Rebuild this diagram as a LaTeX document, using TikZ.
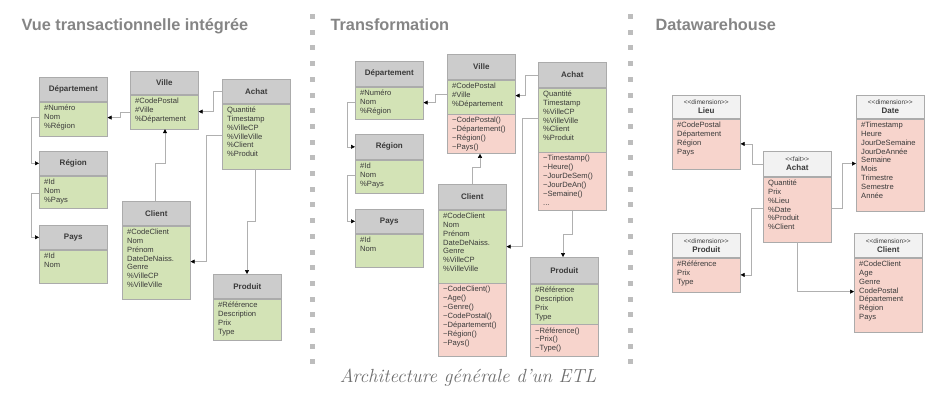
\documentclass[tikz,border=0pt]{standalone}
\usepackage{fontspec}
\newfontfamily\boxfont{Liberation Sans}
\usetikzlibrary{calc,arrows.meta}

\definecolor{headgray}{HTML}{CCCCCC}
\definecolor{dimgray}{HTML}{F2F2F2}
\definecolor{attrgreen}{HTML}{D3E3B6}
\definecolor{methpink}{HTML}{F7D4CC}
\definecolor{boxline}{HTML}{ABABAB}
\definecolor{txtdark}{HTML}{3A3A3A}
\definecolor{conngray}{HTML}{B0B0B0}
\definecolor{titlegray}{HTML}{858585}
\definecolor{sepgray}{HTML}{BDBDBD}
\definecolor{capgray}{HTML}{6E6E6E}

\tikzset{
  cls/.style={draw=boxline, line width=0.6pt, minimum width=68, inner sep=0, anchor=north west},
  head/.style={cls, fill=headgray, font=\boxfont\fontsize{8}{9}\selectfont\bfseries, text=txtdark},
  dimhead/.style={head, fill=dimgray, align=center},
  attr/.style={cls, fill=attrgreen},
  meth/.style={cls, fill=methpink},
  lines/.style={anchor=north west, inner sep=0, align=left, font=\boxfont\fontsize{7.6}{8.9}\selectfont, text=txtdark},
  conn/.style={draw=conngray, line width=0.5pt, -{Triangle[black,length=4pt,width=4pt]}},
  title/.style={anchor=base west, font=\boxfont\fontsize{16.3}{18}\selectfont\bfseries, text=titlegray}
}

% header of a class: name, x, y, height, title
\newcommand{\clshead}[5]{\node[head, minimum height=#4] (#1) at (#2,#3) {#5};}
% compartment under a box: name, style, height, box above, lines
\newcommand{\clspart}[5]{%
  \node[#2, minimum height=#3] (#1) at (#4.south west) {};
  \node[lines] (#1-t) at ($(#1.north west)+(5,3)$) {#5};}
\newcommand{\op}{\textasciitilde}
\newcommand{\dimtag}[2]{{\fontsize{6.5}{7.5}\selectfont\mdseries <{}<#1>{}>}\\#2}

\begin{document}
\begin{tikzpicture}[x=1pt,y=-1pt]
\useasboundingbox (0,0) rectangle (944,404);

% titles
\node[title] (t-vue) at (18,31) {Vue transactionnelle intégrée};
\node[title] (t-trans) at (327,31) {Transformation};
\node[title] (t-dw) at (652,31) {Datawarehouse};

% separators
\foreach \i in {0,...,22} {
  \fill[sepgray] (310,14+\i*15.7) rectangle ++(5,5);
  \fill[sepgray] (628,14+\i*15.7) rectangle ++(5,5);
}

% vue transactionnelle
\clshead{ldep}{39}{77}{24}{Département}
\clspart{ldep-a}{attr}{34}{ldep}{\#Numéro\\Nom\\\%Région}
\clshead{lville}{130}{71}{23}{Ville}
\clspart{lville-a}{attr}{34}{lville}{\#CodePostal\\\#Ville\\\%Département}
\clshead{lachat}{222}{79}{24}{Achat}
\clspart{lachat-a}{attr}{65}{lachat}{Quantité\\Timestamp\\\%VilleCP\\\%VilleVille\\\%Client\\\%Produit}
\clshead{lreg}{39}{151}{24}{Région}
\clspart{lreg-a}{attr}{32}{lreg}{\#Id\\Nom\\\%Pays}
\clshead{lpays}{39}{225}{24}{Pays}
\clspart{lpays-a}{attr}{33}{lpays}{\#Id\\Nom}
\clshead{lclient}{122}{201}{24}{Client}
\clspart{lclient-a}{attr}{73}{lclient}{\#CodeClient\\Nom\\Prénom\\DateDeNaiss.\\Genre\\\%VilleCP\\\%VilleVille}
\clshead{lprod}{213}{274}{24}{Produit}
\clspart{lprod-a}{attr}{41}{lprod}{\#Référence\\Description\\Prix\\Type}

\draw[conn] ($(lville-a.north west)+(0,18)$) -- ++(-10,0) |- ($(ldep-a.north east)+(0,16)$);
\draw[conn] (lachat.west) -- ++(-9,0) |- ($(lville-a.north east)+(0,17)$);
\draw[conn] ($(ldep-a.north west)+(0,16)$) -- ++(-8,0) |- (lreg.west);
\draw[conn] ($(lreg-a.north west)+(0,18)$) -- ++(-8,0) |- (lpays.west);
\draw[conn] ($(lclient.north west)+(33,0)$) -- ++(0,-38) -| ($(lville-a.south west)+(35,0)$);
\draw[conn] ($(lachat-a.north west)+(0,32)$) -- ++(-16,0) |- ($(lclient-a.north east)+(0,36)$);
\draw[conn] ($(lachat-a.south west)+(33,0)$) -- ++(0,52) -| ($(lprod.north west)+(34,0)$);

% transformation
\clshead{mdep}{355}{61}{25}{Département}
\clspart{mdep-a}{attr}{32}{mdep}{\#Numéro\\Nom\\\%Région}
\clshead{mville}{447}{54}{25}{Ville}
\clspart{mville-a}{attr}{34}{mville}{\#CodePostal\\\#Ville\\\%Département}
\clspart{mville-m}{meth}{39}{mville-a}{\op CodePostal()\\\op Département()\\\op Région()\\\op Pays()}
\clshead{machat}{538}{62}{25}{Achat}
\clspart{machat-a}{attr}{64}{machat}{Quantité\\Timestamp\\\%VilleCP\\\%VilleVille\\\%Client\\\%Produit}
\clspart{machat-m}{meth}{58}{machat-a}{\op Timestamp()\\\op Heure()\\\op JourDeSem()\\\op JourDeAn()\\\op Semaine()\\...}
\clshead{mreg}{355}{134}{25}{Région}
\clspart{mreg-a}{attr}{33}{mreg}{\#Id\\Nom\\\%Pays}
\clshead{mpays}{355}{209}{24}{Pays}
\clspart{mpays-a}{attr}{33}{mpays}{\#Id\\Nom}
\clshead{mclient}{438}{184}{25}{Client}
\clspart{mclient-a}{attr}{73}{mclient}{\#CodeClient\\Nom\\Prénom\\DateDeNaiss.\\Genre\\\%VilleCP\\\%VilleVille}
\clspart{mclient-m}{meth}{73}{mclient-a}{\op CodeClient()\\\op Age()\\\op Genre()\\\op CodePostal()\\\op Département()\\\op Région()\\\op Pays()}
\clshead{mprod}{530}{257}{26}{Produit}
\clspart{mprod-a}{attr}{40}{mprod}{\#Référence\\Description\\Prix\\Type}
\clspart{mprod-m}{meth}{32}{mprod-a}{\op Référence()\\\op Prix()\\\op Type()}

\draw[conn] ($(mville-a.north west)+(0,15)$) -- ++(-12,0) |- ($(mdep-a.north east)+(0,16)$);
\draw[conn] (machat.west) -- ++(-13,0) |- ($(mville-a.north east)+(0,16)$);
\draw[conn] ($(mdep-a.north west)+(0,16)$) -- ++(-8,0) |- (mreg.west);
\draw[conn] ($(mreg-a.north west)+(0,16)$) -- ++(-8,0) |- (mpays.west);
\draw[conn] ($(mclient.north west)+(34,0)$) -- ++(0,-17) -| ($(mville-m.south west)+(33,0)$);
\draw[conn] ($(machat-a.north west)+(0,31)$) -- ++(-16,0) |- ($(mclient-a.north east)+(0,37)$);
\draw[conn] ($(machat-m.south west)+(34,0)$) -- ++(0,23) -| ($(mprod.north west)+(33,0)$);

% datawarehouse
\node[dimhead, minimum height=23] (rlieu) at (672,95) {\dimtag{dimension}{Lieu}};
\clspart{rlieu-a}{meth}{50}{rlieu}{\#CodePostal\\Département\\Région\\Pays}
\node[dimhead, minimum height=25] (rachat) at (763,151) {\dimtag{fait}{Achat}};
\clspart{rachat-a}{meth}{65}{rachat}{Quantité\\Prix\\\%Lieu\\\%Date\\\%Produit\\\%Client}
\node[dimhead, minimum height=23] (rdate) at (856,95) {\dimtag{dimension}{Date}};
\clspart{rdate-a}{meth}{92}{rdate}{\#Timestamp\\Heure\\JourDeSemaine\\JourDeAnnée\\Semaine\\Mois\\Trimestre\\Semestre\\Année}
\node[dimhead, minimum height=24] (rprod) at (672,233) {\dimtag{dimension}{Produit}};
\clspart{rprod-a}{meth}{34}{rprod}{\#Référence\\Prix\\Type}
\node[dimhead, minimum height=24] (rclient) at (854,233) {\dimtag{dimension}{Client}};
\clspart{rclient-a}{meth}{74}{rclient}{\#CodeClient\\Age\\Genre\\CodePostal\\Département\\Région\\Pays}

\draw[conn] (rachat.west) -- ++(-11,0) |- (rlieu-a.east);
\draw[conn] ($(rachat-a.north east)+(0,32)$) -- ++(11,0) |- ($(rdate-a.north west)+(0,45)$);
\draw[conn] ($(rachat-a.north west)+(0,32)$) -- ++(-12,0) |- (rprod-a.east);
\draw[conn] ($(rachat-a.south west)+(34,0)$) |- ($(rclient-a.north west)+(0,34)$);

% caption
\node[anchor=base, font=\fontsize{19}{22}\selectfont\itshape, text=capgray] (cap) at (468,382) {Architecture générale d’un ETL};
\end{tikzpicture}
\end{document}
